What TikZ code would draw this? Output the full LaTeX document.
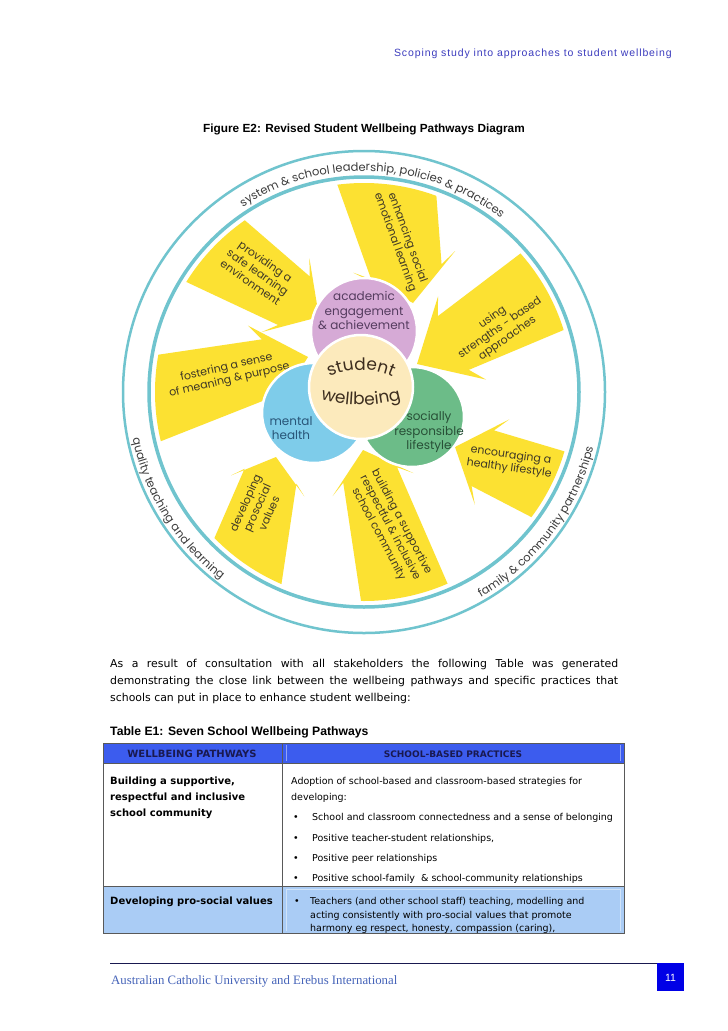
\documentclass[tikz,border=0pt]{standalone}
\usepackage{fontspec}
\usetikzlibrary{decorations.text}
\setmainfont{DejaVu Sans}
\newfontfamily\diagfont{Poppins}
\newfontfamily\serffont{Liberation Serif}
\newfontfamily\arialfont{Liberation Sans}
\newfontfamily\headfont[LetterSpace=8.5]{Liberation Sans}

\definecolor{ringblue}{RGB}{112,196,206}
\definecolor{pathyellow}{RGB}{252,225,50}
\definecolor{acadpurple}{RGB}{214,170,214}
\definecolor{mentalblue}{RGB}{126,204,234}
\definecolor{socialgreen}{RGB}{108,188,136}
\definecolor{wellcream}{RGB}{252,234,188}
\definecolor{headerblue}{RGB}{60,92,238}
\definecolor{rowblue}{RGB}{170,204,245}
\definecolor{linkblue}{RGB}{60,60,190}
\definecolor{footblue}{RGB}{70,100,185}
\definecolor{pagebox}{RGB}{0,0,230}
\definecolor{navy}{RGB}{25,25,80}
\definecolor{diagtext}{RGB}{62,55,38}
\definecolor{ringtext}{RGB}{60,60,60}
\definecolor{acadtext}{RGB}{85,60,95}
\definecolor{mentaltext}{RGB}{40,85,120}
\definecolor{socialtext}{RGB}{40,80,55}
\definecolor{welltext}{RGB}{60,45,30}

\tikzset{
  pathway/.style={fill=pathyellow},
  ring/.style={draw=ringblue},
  outcome/.style={draw=white, line width=2.5pt},
  armtext/.style={font=\diagfont\fontsize{11}{13}\selectfont, text=diagtext, align=center, inner sep=0pt},
  outcometext/.style={font=\diagfont\fontsize{12}{14.5}\selectfont, align=center, inner sep=0pt},
  ringlabel/.style={decorate, decoration={text along path, text align=center,
    text={|\diagfont\fontsize{11.5}{12}\selectfont\color{ringtext}|#1}}},
  welllabel/.style={decorate, decoration={text along path, text align=center,
    text={|\diagfont\fontsize{17}{17}\selectfont\color{welltext}|#1}}},
  bodytext/.style={anchor=base west, font=\fontsize{10.9}{13}\selectfont, inner sep=0pt},
  celltext/.style={anchor=base west, font=\fontsize{9.5}{12}\selectfont, inner sep=0pt},
  cellhead/.style={anchor=base west, font=\bfseries\fontsize{10}{12}\selectfont, inner sep=0pt},
  grid/.style={draw=black!65, line width=0.8pt},
  paleline/.style={draw=white, opacity=0.45, line width=0.8pt}
}

% yellow block arrow: tip x, tip y, direction, head length, barb, neck, tail half widths, bend
\newcommand{\pathwayarrow}[8]{%
  \begin{scope}[shift={(#1,#2)}, rotate=#3]
    \fill[pathway] (-240,#7) to[bend left=#8] (-#4,#6) -- ({-#4-10},#5) -- (0,0)
      -- ({-#4-10},-#5) -- (-#4,-#6) to[bend right=#8] (-240,-#7) -- cycle;
  \end{scope}}

\begin{document}
\begin{tikzpicture}[x=1pt, y=-1pt]
\useasboundingbox (0,0) rectangle (728,1031);
\fill[white] (0,0) rectangle (728,1031);

% running head and caption
\node[anchor=base east, font=\headfont\fontsize{10.5}{12}\selectfont, text=linkblue, inner sep=0pt]
  (runhead) at (672,56) {Scoping study into approaches to student wellbeing};
\node[anchor=base, font=\arialfont\bfseries\fontsize{11.8}{13}\selectfont, inner sep=0pt]
  (caption) at (364,132) {Figure E2: Revised Student Wellbeing Pathways Diagram};

% rings
\draw[ring, line width=3.5pt] (364,392) circle[radius=215];
\draw[ring, line width=2.5pt] (364,392) circle[radius=241];
\begin{scope}[shift={(364,392)}, y=1pt]
  \path[ringlabel={system {\&} school leadership, policies {\&} practices}]
    (143:221) arc[start angle=143, end angle=32, radius=221];
  \path[ringlabel={quality teaching and learning}]
    (172:236) arc[start angle=172, end angle=252, radius=236];
  \path[ringlabel={family {\&} community partnerships}]
    (283:236) arc[start angle=283, end angle=363, radius=236];
\end{scope}

% pathway arrows, cut by the inner ring
\begin{scope}
  \clip (364,392) circle[radius=209];
  \pathwayarrow{319}{317}{-33}{30}{44}{29}{58}{0}
  \pathwayarrow{308}{357}{15}{40}{46}{29}{52}{0}
  \pathwayarrow{417}{364}{210}{42}{48}{31}{56}{0}
  \pathwayarrow{413}{303}{-78}{32}{52}{36}{64}{0}
  \pathwayarrow{455}{447}{158}{30}{46}{30}{50}{0}
  \pathwayarrow{363}{450}{106}{26}{42}{28}{56}{0}
  \pathwayarrow{276}{457}{74}{20}{38}{27}{56}{0}
\end{scope}

\node[armtext, rotate=-35] (safetxt) at (258,272) {providing a\\safe learning\\environment};
\node[armtext, rotate=13] (meaningtxt) at (228,374) {fostering a sense\\of meaning \& purpose};
\node[armtext, rotate=35] (strengthtxt) at (500,328) {using\\strengths - based\\approaches};
\node[armtext, rotate=-70] (seltxt) at (401,240) {enhancing social\\emotional learning};
\node[armtext, rotate=-8] (healthtxt) at (510,462) {encouraging a\\healthy lifestyle};
\node[armtext, rotate=-62] (communitytxt) at (390,528) {building a supportive\\respectful \& inclusive\\school community};
\node[armtext, rotate=66] (prosocialtxt) at (257,508) {developing\\prosocial\\values};

% outcome circles and the centre
\draw[outcome, fill=acadpurple] (364,331) circle[radius=53];
\draw[outcome, fill=mentalblue] (314,413) ellipse[x radius=52, y radius=50];
\draw[outcome, fill=socialgreen] (412,417) ellipse[x radius=52, y radius=50];
\draw[outcome, fill=wellcream] (361,387) circle[radius=52];

\node[outcometext, text=acadtext] (acad) at (364,311) {academic\\engagement\\\& achievement};
\node[outcometext, text=mentaltext] (mental) at (291,428) {mental\\health};
\node[outcometext, text=socialtext] (social) at (429,432) {socially\\responsible\\lifestyle};
\begin{scope}[shift={(361,446)}, y=1pt]
  \path[welllabel={student}] (125:76) arc[start angle=125, end angle=55, radius=76];
\end{scope}
\begin{scope}[shift={(361,255)}, y=1pt]
  \path[welllabel={wellbeing}] (240:150) arc[start angle=240, end angle=300, radius=150];
\end{scope}

% paragraph
\node[bodytext] (para1) at (110,667) {\makebox[508pt][s]{As a result of consultation with all stakeholders the following Table was generated}};
\node[bodytext] (para2) at (110,684) {\makebox[508pt][s]{demonstrating the close link between the wellbeing pathways and specific practices that}};
\node[bodytext] (para3) at (110,701) {schools can put in place to enhance student wellbeing:};
\node[anchor=base west, font=\arialfont\bfseries\fontsize{12.2}{14}\selectfont, inner sep=0pt]
  (tabcap) at (110,735) {Table E1: Seven School Wellbeing Pathways};

% table
\fill[headerblue] (103,743) rectangle (624,763);
\fill[rowblue] (103,886) rectangle (624,933);
\draw[paleline] (286,745) -- (286,761) (620,745) -- (620,761);
\draw[paleline] (286,889) -- (286,931) (620,889) -- (620,931) (286,889) -- (620,889);
\draw[grid] (103,743) rectangle (624,933);
\draw[grid] (282,743) -- (282,933);
\draw[grid] (103,763) -- (624,763);
\draw[grid] (103,886) -- (624,886);
\node[anchor=base, font=\bfseries\fontsize{10}{12}\selectfont, text=navy, inner sep=0pt] (colpath) at (192,757) {WELLBEING PATHWAYS};
\node[anchor=base, font=\bfseries\fontsize{9}{11}\selectfont, text=navy, inner sep=0pt] (colprac) at (453,757) {SCHOOL-BASED PRACTICES};

\node[cellhead] (build1) at (110,784) {Building a supportive,};
\node[cellhead] (build2) at (110,800) {respectful and inclusive};
\node[cellhead] (build3) at (110,816) {school community};
\node[celltext] (adopt1) at (291,784) {Adoption of school-based and classroom-based strategies for};
\node[celltext] (adopt2) at (291,800) {developing:};
\node[celltext] (dot1) at (293,820) {•};
\node[celltext] (item1) at (312,820) {School and classroom connectedness and a sense of belonging};
\node[celltext] (dot2) at (293,841) {•};
\node[celltext] (item2) at (312,841) {Positive teacher-student relationships,};
\node[celltext] (dot3) at (293,861) {•};
\node[celltext] (item3) at (312,861) {Positive peer relationships};
\node[celltext] (dot4) at (293,881) {•};
\node[celltext] (item4) at (312,881) {Positive school-family \ \& school-community relationships};

\node[cellhead] (values1) at (110,904) {Developing pro-social values};
\node[celltext] (dot5) at (294,904) {•};
\node[celltext] (teach1) at (310,904) {Teachers (and other school staff) teaching, modelling and};
\node[celltext] (teach2) at (310,918) {acting consistently with pro-social values that promote};
\node[celltext] (teach3) at (310,931) {harmony eg respect, honesty, compassion (caring),};

% footer
\draw[navy, line width=1pt] (110,963) -- (657,963);
\fill[pagebox] (657,963) rectangle (684,991);
\node[text=white, font=\arialfont\fontsize{10.5}{12}\selectfont, inner sep=0pt] (pageno) at (670.5,978) {11};
\node[anchor=base west, font=\serffont\fontsize{12.8}{14}\selectfont, text=footblue, inner sep=0pt]
  (footer) at (111,984) {Australian Catholic University and Erebus International};
\end{tikzpicture}
\end{document}
